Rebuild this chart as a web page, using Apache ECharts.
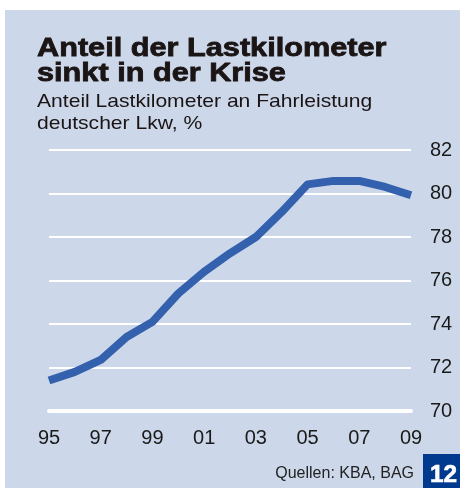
<!DOCTYPE html>
<html>
<head>
<meta charset="utf-8">
<script src="https://cdn.jsdelivr.net/npm/echarts@6/dist/echarts.min.js"></script>
<style>
html,body{margin:0;padding:0;background:#fff;}
#chart{width:460px;height:488px;}
</style>
</head>
<body>
<div id="chart"></div>
<script>
// Jahre (Kategorien) und Werte
var years = ['95','96','97','98','99','00','01','02','03','04','05','06','07','08','09'];
var anteil = [71.4, 71.8, 72.35, 73.4, 74.1, 75.4, 76.4, 77.25, 78.0, 79.15, 80.42, 80.58, 80.58, 80.3, 79.92];
var yTicks = [70, 72, 74, 76, 78, 80, 82];

var font = '"Liberation Sans", Arial, sans-serif';
var chart = echarts.init(document.getElementById('chart'));

chart.setOption({
	animation : false,
	backgroundColor : '#ffffff',
	graphic : [{
		type : 'rect',
		z : -10,
		shape : {x : 5, y : 10, width : 455, height : 478},
		style : {fill : '#ccd7e9'}
	},{
		type : 'rect',
		shape : {x : 423, y : 454, width : 37, height : 34},
		style : {fill : '#003a8f'}
	},{
		type : 'text',
		x : 443.5, y : 475.5,
		scaleX : 1.06,
		style : {text : '12', fill : '#fff', font : 'bold 23px ' + font, align : 'center', verticalAlign : 'middle', stroke : '#fff', lineWidth : 0.6}
	},{
		type : 'text',
		x : 414, y : 474,
		style : {text : 'Quellen: KBA, BAG', fill : '#222', font : '16px ' + font, align : 'right', verticalAlign : 'middle'}
	},{
		type : 'text',
		x : 37, y : 36,
		scaleX : 1.18,
		style : {text : 'Anteil der Lastkilometer\nsinkt in der Krise', fill : '#1a1414', font : 'bold 26px ' + font, lineHeight : 25, stroke : '#1a1414', lineWidth : 0.8}
	},{
		type : 'text',
		x : 37, y : 91,
		scaleX : 1.11,
		style : {text : 'Anteil Lastkilometer an Fahrleistung\ndeutscher Lkw, %', fill : '#1a1414', font : '19px ' + font, lineHeight : 22}
	}],
	grid : {
		left : 49,
		right : 49,
		top : 150,
		bottom : 77
	},
	xAxis : {
		type : 'category',
		data : years,
		boundaryGap : false,
		axisLine : {show : true, lineStyle : {color : '#fff', width : 4}},
		axisTick : {show : false},
		axisLabel : {
			interval : 1,
			color : '#1a1a1a',
			fontFamily : font,
			fontSize : 20,
			margin : 17
		},
		splitLine : {show : false}
	},
	yAxis : {
		type : 'value',
		position : 'right',
		min : yTicks[0],
		max : yTicks[yTicks.length - 1],
		interval : 2,
		axisLine : {show : false},
		axisTick : {show : false},
		axisLabel : {
			color : '#1a1a1a',
			fontFamily : font,
			fontSize : 20,
			margin : 19
		},
		splitLine : {lineStyle : {color : '#fff', width : 2}}
	},
	series : [{
		type : 'line',
		data : anteil,
		symbol : 'none',
		smooth : false,
		lineStyle : {color : '#3461ad', width : 8, join : 'round'}
	}]
});
</script>
</body>
</html>
